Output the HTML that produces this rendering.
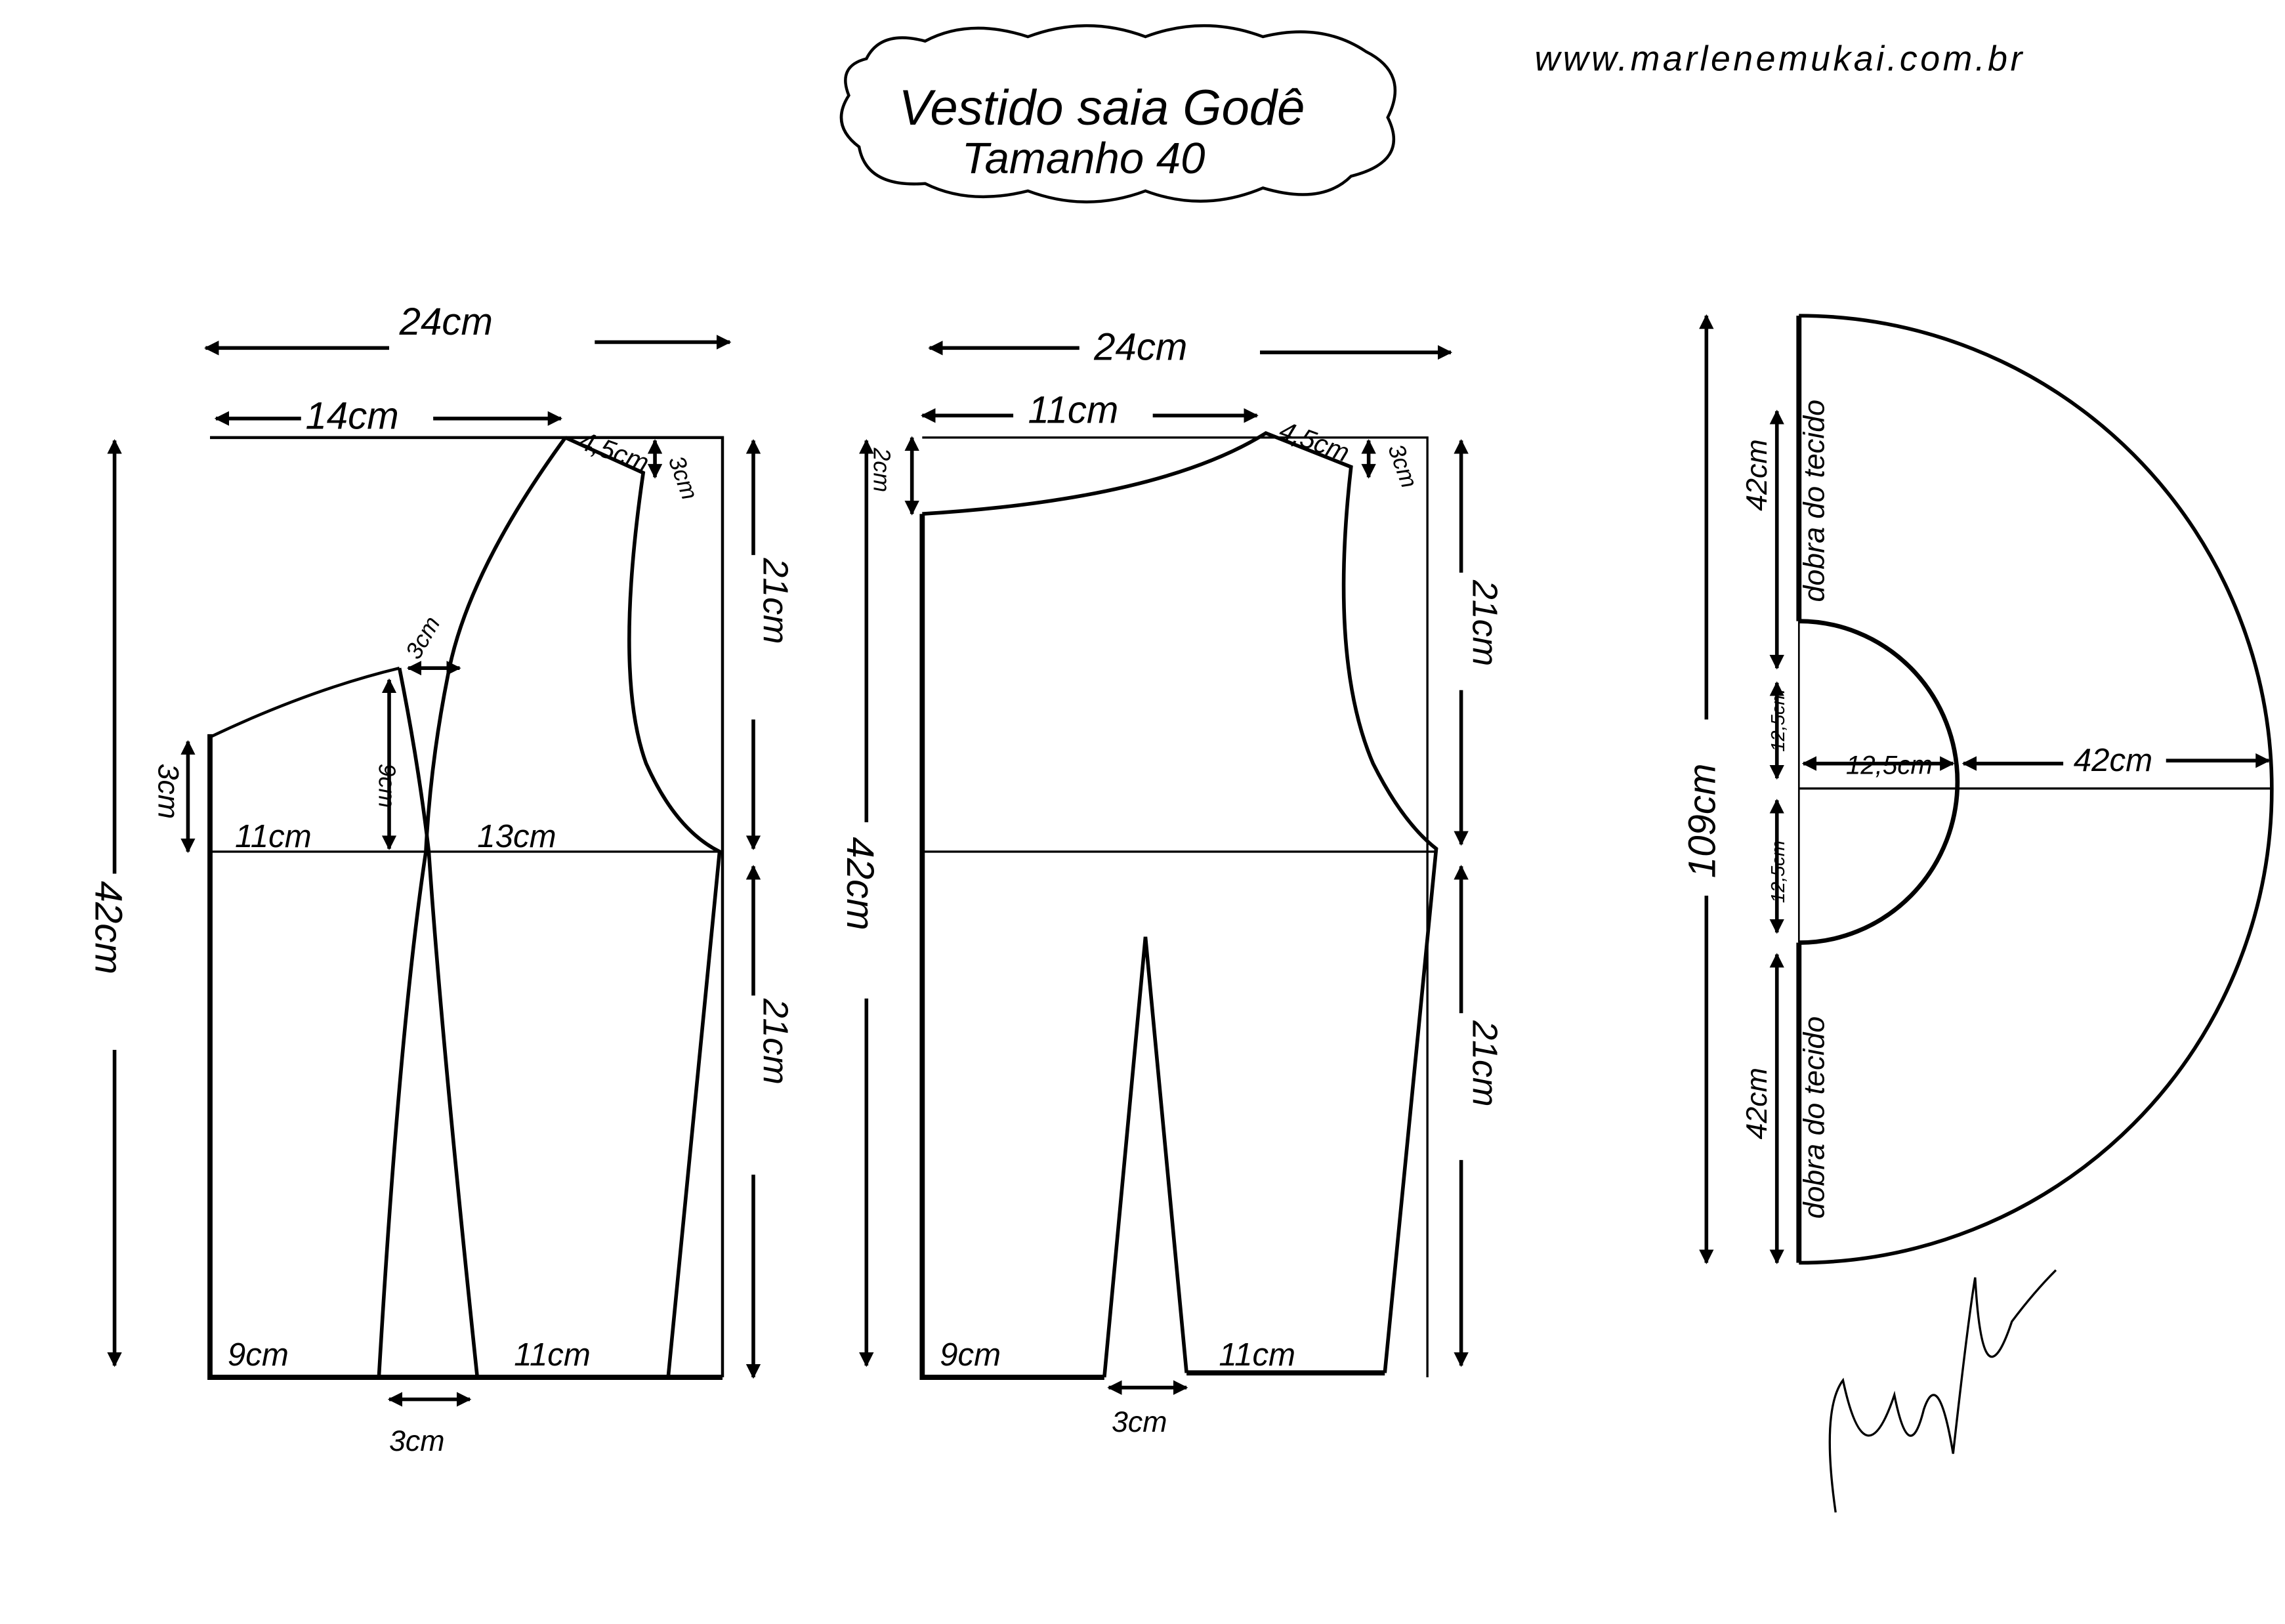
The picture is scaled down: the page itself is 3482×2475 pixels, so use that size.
<!DOCTYPE html>
<html><head><style>html,body{margin:0;padding:0;background:#fff}svg{display:block}
text{font-family:"Liberation Sans",sans-serif;font-style:italic;fill:#000}</style></head>
<body>
<svg width="3482" height="2475" viewBox="0 0 1556 1106" xmlns="http://www.w3.org/2000/svg">
<defs><marker id="a" viewBox="0 0 10 10" refX="9" refY="5" markerWidth="4" markerHeight="4" orient="auto-start-reverse"><path d="M0,0L10,5L0,10z" fill="#000"/></marker></defs>
<g fill="none" stroke="#000" stroke-width="2">
<path d="M590,40 Q600,20 630,28 Q660,12 700,25 Q740,10 780,25 Q820,10 860,25 Q900,15 930,35 Q960,50 945,80 Q960,110 920,120 Q900,140 860,128 Q820,145 780,130 Q740,145 700,130 Q660,140 630,125 Q590,128 585,100 Q565,85 578,65 Q570,45 590,40Z"/>
<path d="M143,298H492V938"/>
<path d="M143,580H492" stroke-width="1.5"/>
<path d="M143,500V938H492" stroke-width="3.5"/>
<path d="M143,502Q210,470 272,455"/>
<path d="M385,298L438,322Q418,460 440,520Q460,565 490,580L455,938" stroke-width="2.5"/>
<path d="M272,455Q285,520 292,580Q300,700 325,938" stroke-width="2.5"/>
<path d="M385,298Q318,390 305,460Q293,520 290,580Q272,700 258,938" stroke-width="2.5"/>
<path d="M628,298H972V938" stroke-width="1.5"/>
<path d="M628,580H978" stroke-width="1.5"/>
<path d="M628,350V938H752M808,935H943" stroke-width="3.5"/>
<path d="M628,350Q790,340 862,295L920,318Q905,450 935,520Q955,560 978,578L943,935" stroke-width="2.5"/>
<path d="M752,938L780,638L808,935" stroke-width="2.5"/>
<path d="M1225,215V423M1225,642V860" stroke-width="3.5"/>
<path d="M1225,423V642" stroke-width="1.2"/>
<path d="M1225,537H1547" stroke-width="1.5"/>
<path d="M1225,215A322,322.5 0 0 1 1225,860" stroke-width="2.5"/>
<path d="M1225,423A108,109.5 0 0 1 1225,642" stroke-width="3"/>
<g stroke-width="2.5" marker-end="url(#a)">
<path d="M265,237H140"/><path d="M405,233H497"/>
<path d="M205,285H147"/><path d="M295,285H382"/>
<path d="M78,595V300"/><path d="M78,715V930"/>
<path d="M513,378V300"/><path d="M513,490V578"/>
<path d="M513,678V590"/><path d="M513,800V938"/>
<path d="M128,505V580" marker-start="url(#a)"/><path d="M265,463V578" marker-start="url(#a)"/><path d="M278,455H313" marker-start="url(#a)"/><path d="M265,953H320" marker-start="url(#a)"/>
<path d="M735,237H633"/><path d="M858,240H988"/>
<path d="M690,283H628"/><path d="M785,283H856"/>
<path d="M590,560V300"/><path d="M590,680V930"/>
<path d="M621,298V350" marker-start="url(#a)"/><path d="M932,300V325" marker-start="url(#a)"/><path d="M446,300V325" marker-start="url(#a)"/>
<path d="M995,390V300"/><path d="M995,470V575"/>
<path d="M995,690V590"/><path d="M995,790V930"/>
<path d="M755,945H808" marker-start="url(#a)"/>
<path d="M1162,490V215"/><path d="M1162,610V860"/>
<path d="M1210,280V455" marker-start="url(#a)"/><path d="M1210,465V530" marker-start="url(#a)"/><path d="M1210,545V635" marker-start="url(#a)"/><path d="M1210,650V860" marker-start="url(#a)"/>
<path d="M1228,520H1330" marker-start="url(#a)"/><path d="M1405,520H1337"/><path d="M1475,518H1545"/>
</g>
<path d="M1250,1030Q1240,960 1255,940Q1270,1010 1290,950Q1300,1000 1310,960Q1320,930 1330,990Q1340,900 1345,870Q1350,960 1370,900Q1385,880 1400,865" stroke-width="1.5"/>
</g>
<g font-size="26">
<text x="612" y="85" font-size="34" font-style="normal">Vestido  saia  Godê</text>
<text x="655" y="118" font-size="30" font-style="normal">Tamanho 40</text>
<text x="1045" y="48" font-size="24" font-style="normal" letter-spacing="2">www.marlenemukai.com.br</text>
<text x="272" y="228">24cm</text><text x="208" y="292">14cm</text>
<text x="393" y="305" font-size="18" transform="rotate(20 393 305)">4,5cm</text>
<text x="455" y="313" font-size="16" transform="rotate(70 455 313)">3cm</text>
<text x="285" y="450" font-size="16" transform="rotate(-60 285 450)">3cm</text>
<text x="160" y="577" font-size="22">11cm</text><text x="325" y="577" font-size="22">13cm</text>
<text x="258" y="520" font-size="16" transform="rotate(90 258 520)">9cm</text>
<text x="108" y="520" font-size="20" transform="rotate(90 108 520)">3cm</text>
<text x="65" y="600" transform="rotate(90 65 600)">42cm</text>
<text x="520" y="380" font-size="24" transform="rotate(90 520 380)">21cm</text>
<text x="520" y="680" font-size="24" transform="rotate(90 520 680)">21cm</text>
<text x="155" y="930" font-size="22">9cm</text><text x="350" y="930" font-size="22">11cm</text>
<text x="265" y="988" font-size="20">3cm</text>
<text x="745" y="245">24cm</text><text x="700" y="288">11cm</text>
<text x="870" y="298" font-size="18" transform="rotate(20 870 298)">4,5cm</text>
<text x="945" y="305" font-size="16" transform="rotate(70 945 305)">3cm</text>
<text x="595" y="305" font-size="16" transform="rotate(90 595 305)">2cm</text>
<text x="577" y="570" transform="rotate(90 577 570)">42cm</text>
<text x="1003" y="395" font-size="24" transform="rotate(90 1003 395)">21cm</text>
<text x="1003" y="695" font-size="24" transform="rotate(90 1003 695)">21cm</text>
<text x="640" y="930" font-size="22">9cm</text><text x="830" y="930" font-size="22">11cm</text>
<text x="757" y="975" font-size="20">3cm</text>
<text x="1168" y="598" transform="rotate(-90 1168 598)">109cm</text>
<text x="1203" y="348" font-size="20" transform="rotate(-90 1203 348)">42cm</text>
<text x="1203" y="776" font-size="20" transform="rotate(-90 1203 776)">42cm</text>
<text x="1215" y="512" font-size="13" transform="rotate(-90 1215 512)">12,5cm</text>
<text x="1215" y="615" font-size="13" transform="rotate(-90 1215 615)">12,5cm</text>
<text x="1242" y="410" font-size="20" transform="rotate(-90 1242 410)">dobra do tecido</text>
<text x="1242" y="830" font-size="20" transform="rotate(-90 1242 830)">dobra do tecido</text>
<text x="1257" y="527" font-size="18">12,5cm</text><text x="1412" y="525" font-size="22">42cm</text>
</g>
</svg>
</body></html>
